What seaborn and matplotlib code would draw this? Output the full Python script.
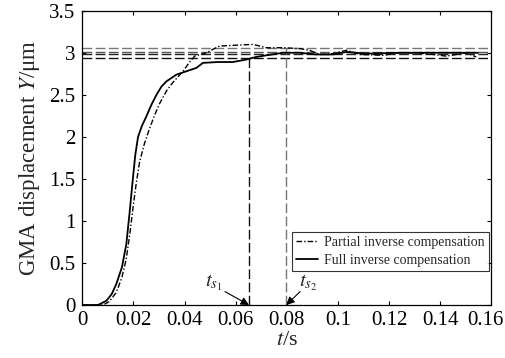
import matplotlib
matplotlib.use("Agg")
import matplotlib.pyplot as plt
import matplotlib.transforms as mtransforms
import pandas as pd
import seaborn as sns

t_partial = [0, 0.0081, 0.0105, 0.0133, 0.0155, 0.0172, 0.0186, 0.0198, 0.0211, 0.0224, 0.0243,
             0.0263, 0.0283, 0.0303, 0.0330, 0.0355, 0.0394, 0.0415, 0.0439, 0.0485, 0.0510,
             0.0537, 0.0600, 0.0668, 0.0720, 0.0785, 0.0850, 0.0889, 0.0928, 0.0980, 0.1033,
             0.1085, 0.1176, 0.1241, 0.1307, 0.1372, 0.1424, 0.1502, 0.1541]
y_partial = [0, 0, 0.04, 0.15, 0.33, 0.55, 0.85, 1.15, 1.45, 1.70, 1.92,
             2.10, 2.26, 2.40, 2.55, 2.65, 2.78, 2.87, 2.96, 3.00, 3.04,
             3.08, 3.09, 3.10, 3.06, 3.06, 3.05, 3.03, 2.98, 2.99, 3.03,
             2.98, 2.97, 3.00, 3.00, 2.98, 2.96, 3.00, 2.95]

t_full = [0, 0.0061, 0.0094, 0.0115, 0.0133, 0.0155, 0.0172, 0.0185, 0.0197, 0.0207, 0.0218,
          0.0233, 0.0250, 0.0270, 0.0290, 0.0310, 0.0329, 0.0368, 0.0407, 0.0446, 0.0472,
          0.0530, 0.0589, 0.0642, 0.0680, 0.0720, 0.0785, 0.0850, 0.0915, 0.0980, 0.1033,
          0.1111, 0.1241, 0.1372, 0.1548]
y_full = [0, 0, 0.05, 0.13, 0.25, 0.45, 0.72, 1.10, 1.48, 1.78, 2.00,
          2.13, 2.24, 2.38, 2.50, 2.60, 2.66, 2.74, 2.78, 2.82, 2.88,
          2.89, 2.89, 2.92, 2.95, 2.97, 3.00, 3.00, 2.98, 2.98, 3.01,
          2.99, 3.00, 3.00, 3.00]

band_levels = [3.06, 3.01, 2.98, 2.94]
band_colors = ["#777777", "#555555", "#222222", "#111111"]
ts_values = [0.0652, 0.0798]
ts_tops = [2.94, 3.06]
ts_labels = [r"$t_{s_1}$", r"$t_{s_2}$"]

x_ticks = [0, 0.02, 0.04, 0.06, 0.08, 0.1, 0.12, 0.14, 0.16]
x_ticklabels = ["0", "0.02", "0.04", "0.06", "0.08", "0.1", "0.12", "0.14", "0.16"]
y_ticks = [0, 0.5, 1, 1.5, 2, 2.5, 3, 3.5]
y_ticklabels = ["0", "0.5", "1", "1.5", "2", "2.5", "3", "3.5"]

sns.set_theme(style="ticks")
plt.rcParams["font.family"] = ["Liberation Serif", "DejaVu Serif"]
plt.rcParams["mathtext.fontset"] = "stix"
plt.rcParams["xtick.direction"] = "in"
plt.rcParams["ytick.direction"] = "in"

fig = plt.figure(figsize=(5.05, 3.58), dpi=100)
ax = fig.add_axes([0.163, 0.148, 0.810, 0.822])

dash = (0, (7, 2.5))
for lvl, col in zip(band_levels, band_colors):
    ax.axhline(lvl, color=col, lw=1.0, ls=dash, zorder=1)

for tv, top, col in zip(ts_values, ts_tops, ["#111111", "#777777"]):
    ax.plot([tv, tv], [0, top], color=col, lw=1.0, ls=dash, zorder=1)

partial = pd.DataFrame({"t": t_partial, "y": y_partial})
full = pd.DataFrame({"t": t_full, "y": y_full})
sns.lineplot(data=partial, x="t", y="y", ax=ax, color="black", lw=1.0,
             linestyle=(0, (4, 1.5, 1, 1.5)), label="Partial inverse compensation")
sns.lineplot(data=full, x="t", y="y", ax=ax, color="black", lw=1.3,
             label="Full inverse compensation")

# settling-time labels and arrows
label_pos = [(0.0515, 0.27), (0.0885, 0.27)]
arrow_start = [(0.0558, 0.16), (0.0852, 0.16)]
for lab, pos, start, tv in zip(ts_labels, label_pos, arrow_start, ts_values):
    ax.text(pos[0], pos[1], lab, fontsize=15, ha="center", va="center")
    ax.annotate("", xy=(tv, 0), xytext=start,
                arrowprops=dict(arrowstyle="-|>", color="black", lw=0.8,
                                shrinkA=0, shrinkB=0, mutation_scale=12))

ax.set_xlim(0, 0.16)
ax.set_ylim(0, 3.5)
ax.set_xticks(x_ticks)
ax.set_xticklabels(x_ticklabels)
ax.set_yticks(y_ticks)
ax.set_yticklabels(y_ticklabels)
ax.tick_params(labelsize=15, top=True, right=True, length=3, width=0.8, colors="black")
ax.tick_params(axis="x", pad=4)
ax.tick_params(axis="y", pad=5)
for sp in ax.spines.values():
    sp.set_visible(True)
    sp.set_linewidth(0.9)
    sp.set_color("black")

# nudge last x tick label so it stays inside the figure
last = ax.get_xticklabels()[-1]
last.set_transform(last.get_transform() + mtransforms.ScaledTranslation(-6 / 100, 0, fig.dpi_scale_trans))

ax.set_xlabel(r"$t$/s", fontsize=16, labelpad=1)
ax.set_ylabel(r"GMA displacement $Y$/μm", fontsize=16.5, labelpad=5)

leg = ax.legend(loc="lower right", bbox_to_anchor=(0.993, 0.115), fontsize=10,
                frameon=True, fancybox=False, handlelength=1.6, handletextpad=0.4,
                borderpad=0.3, labelspacing=0.35, borderaxespad=0)
leg.get_frame().set_edgecolor("black")
leg.get_frame().set_linewidth(0.8)

fig.savefig("out.png", dpi=100)
